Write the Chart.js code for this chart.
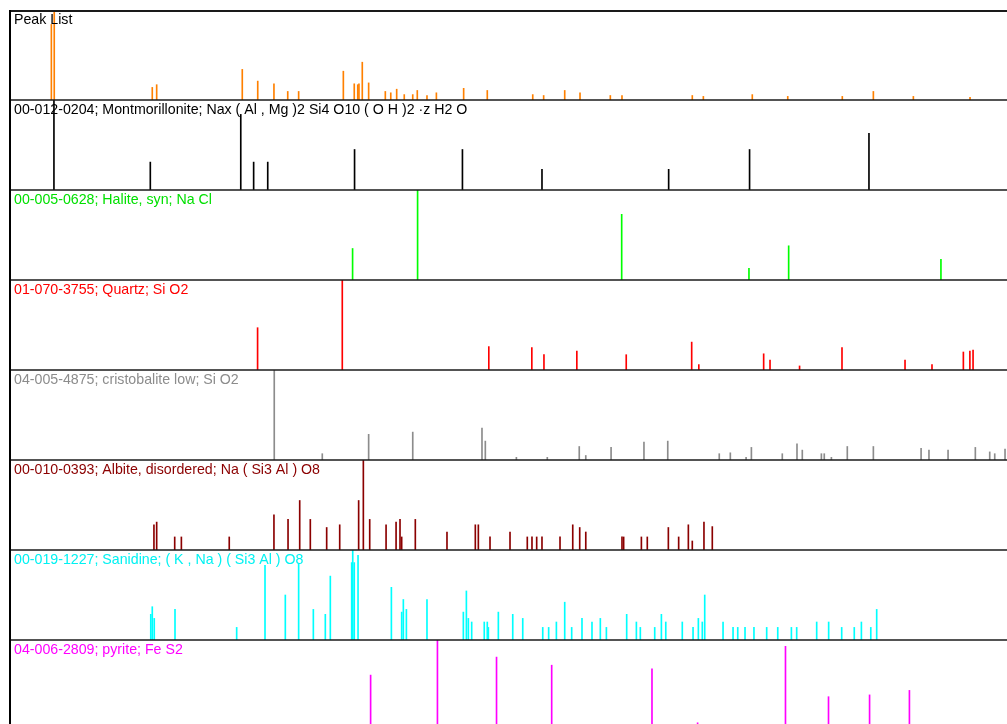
<!DOCTYPE html>
<html>
<head>
<meta charset="utf-8">
<script src="https://cdn.jsdelivr.net/npm/chart.js@4.4.1/dist/chart.umd.min.js"></script>
<style>
  html, body { margin: 0; padding: 0; overflow: hidden; background: #ffffff; }
  #wrap { position: absolute; left: 0; top: 0; width: 1007px; height: 740px; }
</style>
</head>
<body>
<div id="wrap"><canvas id="c" width="1007" height="740"></canvas></div>
<script>
// ---- Data (2-theta in degrees, relative intensity 0-100) ----
const axisMin = 4.8;
const axisMax = 70.6;

const peakListTheta = [7.53, 7.72, 14.19, 14.48, 20.13, 21.15, 22.22, 23.13, 23.85, 26.80, 27.52, 27.75, 27.83, 28.05, 28.47, 29.57, 29.93, 30.32, 30.82, 31.38, 31.68, 32.32, 32.94, 34.74, 36.30, 39.30, 40.02, 41.41, 42.42, 44.42, 45.19, 49.83, 50.56, 53.79, 56.13, 59.73, 61.78, 64.42, 68.16];
const peakListInt   = [84, 100, 14, 17, 34, 21, 18, 9.5, 9.5, 32, 18, 17, 18, 42, 19, 9.5, 8, 12, 6, 6, 10.6, 5, 8, 13, 10.6, 6, 5, 10.6, 8, 5, 5, 5, 4, 6, 4, 4, 9.5, 4, 3];

const montTheta = [7.70, 14.06, 20.03, 20.88, 21.81, 27.54, 34.66, 39.91, 48.27, 53.61, 61.49];
const montInt   = [100, 31, 84, 31, 31, 45, 45, 23, 23, 45, 63];

const haliteTheta = [27.41, 31.70, 45.17, 53.57, 56.19, 66.24];
const haliteInt   = [35, 100, 73, 13, 38, 23];

const quartzTheta = [21.14, 26.73, 36.40, 39.24, 40.04, 42.21, 45.47, 49.79, 50.26, 54.54, 54.96, 56.91, 59.71, 63.87, 65.65, 67.72, 68.15, 68.36];
const quartzInt   = [47, 100, 26, 25, 17, 21, 17, 31, 6, 18, 11, 4.5, 25, 11, 6, 20, 21, 22];

const cristTheta = [22.24, 25.41, 28.47, 31.38, 35.95, 36.17, 38.22, 40.26, 42.37, 42.80, 44.47, 46.64, 48.21, 51.61, 52.34, 53.38, 53.73, 55.77, 56.74, 57.09, 58.35, 58.54, 59.01, 60.06, 61.78, 64.93, 65.45, 66.71, 68.51, 69.46, 69.79, 70.47];
const cristInt   = [100, 7, 28.5, 31, 35.5, 21, 3, 3, 15, 5, 14, 20, 21, 7, 8, 3, 14, 7, 18, 11, 7, 7, 3, 15, 15, 13, 11, 11, 14, 9, 7, 12];

const albiteTheta = [14.30, 14.48, 15.67, 16.11, 19.27, 22.22, 23.15, 23.92, 24.62, 25.70, 26.56, 27.81, 28.12, 28.54, 29.62, 30.28, 30.54, 30.65, 31.55, 33.64, 35.51, 35.71, 36.48, 37.80, 38.94, 39.25, 39.56, 39.91, 41.10, 41.94, 42.40, 42.80, 45.19, 45.30, 46.47, 46.86, 48.25, 48.93, 49.57, 49.83, 50.60, 51.15];
const albiteInt   = [28, 31, 14.5, 14.5, 14.5, 39, 34, 55, 34, 25, 28, 55, 100, 34, 28, 31, 34, 14.5, 34, 20, 28, 28, 14.5, 20, 14.5, 14.5, 14.5, 14.5, 14.5, 28, 25, 20, 14.5, 14.5, 14.5, 14.5, 25, 14.5, 28, 10, 31, 26];

const sanidineTheta = [14.09, 14.19, 14.32, 15.69, 19.76, 21.63, 22.97, 23.85, 24.82, 25.61, 25.94, 27.35, 27.42, 27.52, 27.77, 29.97, 30.65, 30.76, 30.96, 32.32, 34.72, 34.92, 35.05, 35.27, 36.10, 36.30, 36.37, 37.03, 37.98, 38.64, 39.96, 40.35, 40.86, 41.41, 41.87, 42.55, 43.21, 43.76, 44.16, 45.50, 46.14, 46.40, 47.35, 47.79, 48.08, 49.17, 49.88, 50.23, 50.49, 50.65, 51.86, 52.52, 52.83, 53.31, 53.90, 54.74, 55.47, 56.37, 56.72, 58.04, 58.83, 59.69, 60.52, 60.99, 61.61, 62.00];
const sanidineInt   = [28.5, 37, 24, 34, 14, 83, 50, 85, 34, 28.5, 71, 86, 100, 86, 94, 58.5, 31, 45, 34, 45, 31, 54.5, 24, 20, 20, 20, 14, 31, 28.5, 24, 14, 14, 20, 42, 14, 24, 20, 24, 14, 28.5, 20, 14, 14, 28.5, 20, 20, 14, 24, 20, 50, 20, 14, 14, 14, 14, 14, 14, 14, 14, 20, 20, 14, 14, 20, 14, 34];

const pyriteTheta = [28.60, 33.01, 36.91, 40.55, 47.17, 50.18, 55.98, 58.82, 61.53, 64.16];
const pyriteInt   = [61, 100, 81, 72, 68, 8, 93, 37, 39, 44];

const panelLabels = [
  'Peak List',
  '00-012-0204; Montmorillonite; Nax ( Al , Mg )2 Si4 O10 ( O H )2 \u00b7z H2 O',
  '00-005-0628; Halite, syn; Na Cl',
  '01-070-3755; Quartz; Si O2',
  '04-005-4875; cristobalite low; Si O2',
  '00-010-0393; Albite, disordered; Na ( Si3 Al ) O8',
  '00-019-1227; Sanidine; ( K , Na ) ( Si3 Al ) O8',
  '04-006-2809; pyrite; Fe S2'
];
const barColors  = ['#FF8000', '#000000', '#00FF00', '#FF0000', '#8C8C8C', '#8B0000', '#00FFFF', '#FF00FF'];
const textColors = ['#000000', '#000000', '#00E000', '#FF0000', '#8C8C8C', '#8B0000', '#00F2F2', '#FF00FF'];

const thetas = [peakListTheta, montTheta, haliteTheta, quartzTheta, cristTheta, albiteTheta, sanidineTheta, pyriteTheta];
const ints   = [peakListInt, montInt, haliteInt, quartzInt, cristInt, albiteInt, sanidineInt, pyriteInt];

// ---- Build chart config ----
const scales = {
  x: { type: 'linear', min: axisMin, max: axisMax, offset: false, display: false }
};
// stacked left scales are laid out in reverse definition order, so define last panel first
for (let i = panelLabels.length - 1; i >= 0; i--) {
  scales['p' + i] = {
    type: 'linear', position: 'left', stack: 'panels', stackWeight: 1,
    min: 0, max: 100, display: true,
    ticks: { display: false }, grid: { display: false, drawTicks: false }, border: { display: false }
  };
}
const datasets = panelLabels.map((lab, i) => ({
  label: lab,
  data: thetas[i].map((t, k) => ({ x: t, y: ints[i][k] })),
  backgroundColor: barColors[i],
  borderWidth: 0,
  barThickness: 1,
  grouped: false,
  yAxisID: 'p' + i,
  xAxisID: 'x'
}));

const panelPlugin = {
  id: 'panelPlugin',
  afterDraw(chart) {
    const ctx = chart.ctx;
    const area = chart.chartArea;
    ctx.save();
    panelLabels.forEach((lab, i) => {
      const s = chart.scales['p' + i];
      ctx.strokeStyle = '#1a1a1a';
      ctx.lineWidth = (i === 0) ? 2 : 1.5;
      ctx.beginPath();
      ctx.moveTo(area.left, s.top + (i === 0 ? 1 : 0));
      ctx.lineTo(chart.width, s.top + (i === 0 ? 1 : 0));
      ctx.stroke();
      ctx.fillStyle = textColors[i];
      ctx.font = "14.2px 'Liberation Sans', Arial, sans-serif";
      ctx.textBaseline = 'alphabetic';
      ctx.textAlign = 'left';
      ctx.fillText(lab, area.left + 4, s.top + 14);
    });
    ctx.strokeStyle = '#000000';
    ctx.lineWidth = 2;
    ctx.beginPath();
    ctx.moveTo(area.left, area.top);
    ctx.lineTo(area.left, chart.height);
    ctx.stroke();
    ctx.restore();
  }
};

new Chart(document.getElementById('c'), {
  type: 'bar',
  data: { datasets },
  options: {
    responsive: false,
    animation: false,
    devicePixelRatio: 1,
    layout: { padding: { left: 10, top: 10, right: 0, bottom: 10 } },
    plugins: { legend: { display: false }, tooltip: { enabled: false }, title: { display: false } },
    scales
  },
  plugins: [panelPlugin]
});
</script>
</body>
</html>
